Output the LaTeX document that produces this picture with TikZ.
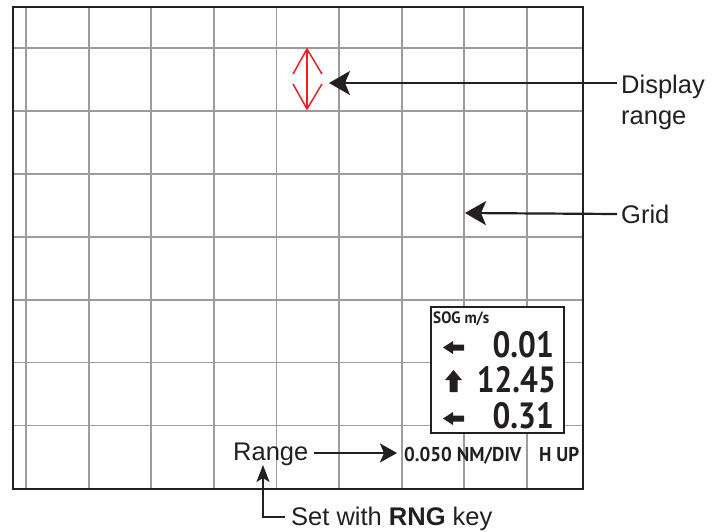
\documentclass[tikz,border=0pt]{standalone}
\usepackage{graphicx}
\usepackage{fontspec}
\setmainfont{Liberation Sans}
\newfontfamily\lcd{PT Sans}
\usetikzlibrary{arrows.meta,calc}
\definecolor{ink}{RGB}{35,31,32}
\definecolor{gridc}{RGB}{155,156,159}
\definecolor{redc}{RGB}{237,32,36}
\begin{document}
\begin{tikzpicture}[x=1pt,y=-1pt,
  gridline/.style={draw=gridc,line width=1.8pt},
  frame/.style={draw=ink,line width=2.4pt},
  lbl/.style={font=\fontsize{25.5}{30}\selectfont,inner sep=0pt,text=ink},
  lcdsmall/.style={font=\lcd\bfseries\fontsize{20}{24}\selectfont,inner sep=0pt,text=ink},
  lcdtiny/.style={font=\lcd\bfseries\fontsize{16.5}{20}\selectfont,inner sep=0pt,text=ink},
  lcdbig/.style={font=\lcd\bfseries\fontsize{36.5}{42}\selectfont,inner sep=0pt,text=ink},
  sogbox/.style={draw=ink,line width=2.4pt,fill=white,inner sep=0pt,minimum width=133pt,minimum height=126pt},
  bigarr/.style={draw=ink,line width=2.2pt,-{Stealth[length=21pt,width=24pt,inset=5pt]}},
  midarr/.style={draw=ink,line width=2.2pt,-{Stealth[length=17pt,width=19pt,inset=4pt]}},
  smallarr/.style={draw=ink,line width=2.2pt,-{Stealth[length=17pt,width=13pt,inset=4pt]}},
  redline/.style={draw=redc,line width=1.5pt},
  blockarr/.style={fill=ink,draw=none}]
\useasboundingbox (0,0) rectangle (712,531);
% grid
\foreach \i in {0,...,8} \draw[gridline] ({26+62.6*\i},7) -- ({26+62.6*\i},489);
\foreach \j in {0,...,6} \draw[gridline] (13,{48+62.9*\j}) -- (583,{48+62.9*\j});
\draw[frame] (13,7) rectangle (583,489);
% red display-range symbol
\draw[redline] (307,49) -- (307,109);
\draw[redline] (293,74) -- (307,49) -- (322,74);
\draw[redline] (293,84) -- (307,109) -- (322,84);
\coordinate (rangesym) at (329,83);
\coordinate (gridpt) at (465,213);
% labels
\node[lbl,anchor=base west] (disp) at (621,93) {Display};
\node[lbl,anchor=base west] (disp2) at (621,124) {range};
\node[lbl,anchor=base west] (grid) at (621,223) {Grid};
\draw[bigarr] ($(disp.base west)+(-4,-10)$) -- (rangesym);
\draw[bigarr] ($(grid.base west)+(-4,-9)$) -- (gridpt);
% SOG box
\node[sogbox,anchor=north west] (sog) at (430,306) {};
\node[lcdtiny,anchor=base west] (soglbl) at (433,323) {\scalebox{0.92}[1]{SOG m/s}};
\node[lcdbig,anchor=base east] (v1) at (554,357) {\scalebox{0.86}[1]{0.01}};
\node[lcdbig,anchor=base east] (v2) at (556,392) {\scalebox{0.86}[1]{12.45}};
\node[lcdbig,anchor=base east] (v3) at (554,428) {\scalebox{0.86}[1]{0.31}};
\fill[blockarr] (443,347.5) -- (453,341) -- (453,344.5) -- (464,344.5) -- (464,350.5) -- (453,350.5) -- (453,354) -- cycle;
\fill[blockarr] (443,418.5) -- (453,412) -- (453,415.5) -- (464,415.5) -- (464,421.5) -- (453,421.5) -- (453,425) -- cycle;
\fill[blockarr] (453.5,370) -- (462,380) -- (457.5,380) -- (457.5,392) -- (449.5,392) -- (449.5,380) -- (445,380) -- cycle;
% bottom status line
\node[lcdsmall,anchor=base west] (nm) at (404,461) {\scalebox{0.95}[1]{0.050 NM/DIV}};
\node[lcdsmall,anchor=base west] (hup) at (539,461) {\scalebox{0.95}[1]{H UP}};
\node[lbl,anchor=base west] (range) at (233,460) {Range};
\node[lbl,anchor=base west] (set) at (291,525) {Set with \textbf{RNG} key};
\draw[midarr] ($(range.base east)+(5,-7)$) -- ($(nm.base west)+(-7,-8)$);
\draw[smallarr] ($(set.base west)+(-6,-8)$) -| ($(range.base west)+(30,5)$);
\end{tikzpicture}
\end{document}
